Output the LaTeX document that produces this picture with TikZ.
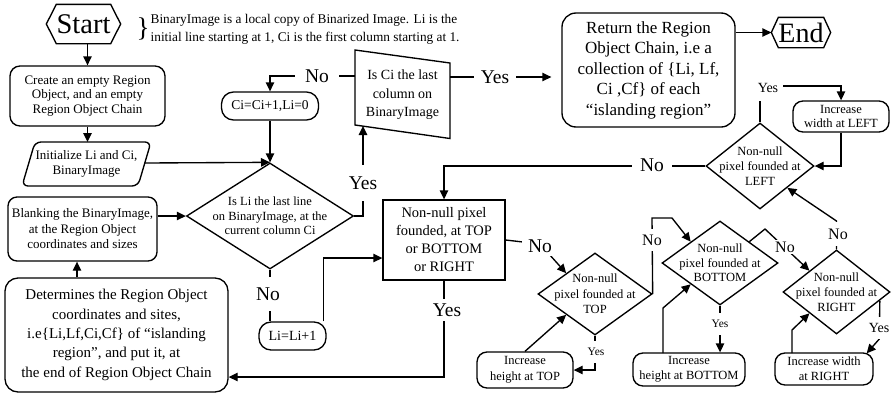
\documentclass[tikz,border=0pt]{standalone}
\usepackage{fontspec}
\setmainfont{Liberation Serif}
\usetikzlibrary{shapes.geometric,arrows.meta,calc}
\newcommand\fsz[2]{\fontsize{#1}{#2}\selectfont}
\begin{document}
\begin{tikzpicture}[x=1pt,y=-1pt,line width=1.35pt,
  arr/.style={-{Triangle[length=9pt,width=8.5pt]}},
  rbox/.style={draw,rounded corners=10pt,align=center,inner sep=0pt},
  sbox/.style={draw,align=center,inner sep=0pt},
  pill/.style={draw,rounded corners=12pt,align=center,inner sep=0pt},
  dia/.style={draw,diamond,inner sep=0pt},
  txt/.style={align=center,inner sep=0pt},
  notetxt/.style={anchor=base west,inner sep=0pt,font=\fsz{13.3}{16}},
  big/.style={fill=white,inner sep=2pt,font=\fsz{19.5}{20}},
  mid/.style={fill=white,inner sep=2pt,font=\fsz{16}{16}},
  yesm/.style={fill=white,inner sep=2pt,font=\fsz{14}{14}},
  sml/.style={fill=white,inner sep=2pt,font=\fsz{11.5}{12}},
  ]
\useasboundingbox (0,0) rectangle (891,394);

% ---------- terminals ----------
\node[txt,font=\fsz{28.5}{28.5},minimum width=73,minimum height=38] (start) at (83.5,24) {Start};
\draw (start.west) -- ([xshift=10pt]start.north west) -- ([xshift=-10pt]start.north east)
  -- (start.east) -- ([xshift=-10pt]start.south east) -- ([xshift=10pt]start.south west) -- cycle;

\node[txt,font=\fsz{28}{28},minimum width=58,minimum height=29] (end) at (801,32.5) {End};
\draw (end.west) -- ([xshift=7pt]end.north west) -- ([xshift=-7pt]end.north east)
  -- (end.east) -- ([xshift=-7pt]end.south east) -- ([xshift=7pt]end.south west) -- cycle;

% ---------- note ----------
\node[anchor=west,inner sep=0pt,font=\fsz{27}{27}] (brace) at (136,29) {\}};
\node[notetxt] (noteA) at (150,23.5) {BinaryImage is a local copy of Binarized Image. Li is the};
\node[notetxt] (noteB) at (150,41.5) {initial line starting at 1, Ci is the first column starting at 1.};

% ---------- left column ----------
\node[rbox,minimum width=155,minimum height=60,font=\fsz{13}{14.5}] (create) at (87.5,96)
  {Create an empty Region\\Object, and an empty\\Region Object Chain};

\draw[rounded corners=6pt] (35,142) -- (151,142) -- (138,186) -- (22,186) -- cycle;
\node[txt,font=\fsz{13}{15}] (init) at (86.5,164) {Initialize Li and Ci,\\BinaryImage};
\coordinate (initTop) at (88,142);
\coordinate (initR) at (145,163);

\node[rbox,rounded corners=9pt,minimum width=149,minimum height=64,font=\fsz{13}{15.5}] (blank) at (82.5,229)
  {Blanking the BinaryImage,\\at the Region Object\\coordinates and sizes};

\node[rbox,rounded corners=13pt,minimum width=223,minimum height=114,font=\fsz{15}{19.3}] (det) at (116.5,335)
  {Determines the Region Object\\coordinates and sites,\\i.e\{Li,Lf,Ci,Cf\} of “islanding\\region”, and put it, at\\the end of Region Object Chain};
\coordinate (upx) at (77,0);

% ---------- centre ----------
\node[dia,minimum width=167,minimum height=106] (d1) at (270,216) {};
\node[txt,font=\fsz{12.5}{14.5}] (d1t) at (d1) {Is Li the last line\\on BinaryImage, at the\\current column Ci};

\node[pill,minimum width=97,minimum height=28,font=\fsz{13.5}{14}] (ci) at (270,106) {Ci=Ci+1,Li=0};
\node[pill,minimum width=67,minimum height=28,font=\fsz{14}{14}] (li) at (292.5,336) {Li=Li+1};

\draw (355,50) -- (450,63) -- (450,138.5) -- (355,125) -- cycle;
\node[txt,font=\fsz{14}{18.5}] (trap) at (402.5,95) {Is Ci the last\\column on\\BinaryImage};
\coordinate (trapL) at (355,76);
\coordinate (trapR) at (450,77);
\coordinate (trapB) at (363,126);

\node[sbox,minimum width=122,minimum height=80,font=\fsz{14.5}{18}] (nn) at (444,240)
  {Non-null pixel\\founded, at TOP\\or BOTTOM\\or RIGHT};

\node[rbox,rounded corners=14pt,minimum width=173,minimum height=114,font=\fsz{17}{20.5}] (ret) at (648.5,70)
  {Return the Region\\Object Chain, i.e a\\collection of \{Li, Lf,\\Ci ,Cf\} of each\\“islanding region”};

% ---------- border search ----------
\node[dia,minimum width=114,minimum height=82] (top) at (595,294) {};
\node[txt,font=\fsz{12.5}{15.5}] (topt) at (top) {Non-null\\pixel founded at\\TOP};
\node[dia,minimum width=116,minimum height=84] (bot) at (720,263) {};
\node[txt,font=\fsz{12.5}{14.5}] (bott) at (bot) {Non-null\\pixel founded at\\BOTTOM};
\node[dia,minimum width=107,minimum height=84] (right) at (836.5,292) {};
\node[txt,font=\fsz{12.5}{15}] (rightt) at (right) {Non-null\\pixel founded at\\RIGHT};
\node[dia,minimum width=108,minimum height=86] (left) at (760,166) {};
\node[txt,font=\fsz{12.5}{15}] (leftt) at (left) {Non-null\\pixel founded at\\LEFT};

\node[rbox,minimum width=96,minimum height=36,font=\fsz{12.5}{16}] (incTop) at (525,370) {Increase\\height at TOP};
\node[rbox,minimum width=112,minimum height=33,font=\fsz{12.5}{15}] (incBot) at (689,369.5) {Increase\\height at BOTTOM};
\node[rbox,minimum width=98,minimum height=32,font=\fsz{12.5}{15}] (incRight) at (824,369) {Increase width\\at RIGHT};
\node[rbox,minimum width=96,minimum height=31,font=\fsz{12.5}{13.5}] (incLeft) at (841,116.5) {Increase\\width at LEFT};

% ---------- connectors ----------
\draw[arr] (start.south -| create.north) -- (create.north);
\draw[arr] (create.south) -- (create.south |- initTop);
\draw[arr] (initR) -- (d1.north);
\draw[arr] (ci.south) -- (d1.north);
\draw[arr] (d1.west -| blank.east) -- (d1.west);
\draw[arr] (det.north -| upx) -- (blank.south -| upx);

\draw[arr] (d1.east) -| (trapB);
\node[big,inner ysep=12pt] (y1) at (363,183) {Yes};

\draw[arr] (trapL) -| (ci.north);
\node[big,inner xsep=10pt] (n1) at (317,76) {No};

\draw[arr,shorten >=10pt] (trapR) -- (trapR -| ret.west);
\node[big,inner xsep=7pt] (y2) at (495,77) {Yes};

\draw[arr] (ret.east |- end.west) -- (end.west);

\draw (d1.south) -- (d1.south |- li.north);
\node[big,inner ysep=11pt] (n2) at (268,294) {No};

\draw[arr] ([xshift=-3pt]li.north east) |- ($(nn.west)+(0,18)$);

\coordinate (yesTurn) at (447,377);
\draw[arr] (nn.south) -- (nn.south |- yesTurn) -- (det.east |- yesTurn);
\node[big,inner ysep=5pt] (y3) at (447,310) {Yes};

\draw[arr] (nn.east) -- (540,244) -- (top.north west);
\node[big,inner xsep=6pt,inner ysep=4pt] (n3) at (540,246) {No};

\draw[arr] (top.south) |- (incTop.east);
\node[sml,inner ysep=7pt] (y4) at (596,352) {Yes};
\draw[arr] (incTop.north) -- (top.south west);

\draw[arr] (top.east) -- (652,218) -- (672,218) -- (bot.north west);
\node[mid,inner ysep=6pt] (n4) at (652,240) {No};

\draw[arr] (bot.south) -- (bot.south |- incBot.north);
\node[sml,inner ysep=7pt] (y5) at (720,324) {Yes};
\draw[arr] (663,353) -- (663,308) -- (bot.south west);

\draw[arr] (bot.north east) -- (765,229) -- (right.north west);
\node[mid,inner sep=2pt] (n5) at (785,247) {No};

\draw[arr] (right.north) -- (836.5,221) -- (left.south east);
\node[mid,inner ysep=7pt] (n6) at (838,234) {No};

\draw[arr] ($(right.east)!0.2!(right.south)$) -- (879.3,339) -- ($(incRight.north east)+(-7,1)$);
\node[yesm,inner xsep=1pt,inner ysep=6pt] (y6) at (879,328) {Yes};
\draw[arr] (792,353) -- (792,330) -- (right.south west);

\draw[arr] (left.north) -- (760,86) -| (incLeft.north);
\node[yesm,inner xsep=5pt,inner ysep=8pt] (y7) at (768,88) {Yes};
\draw[arr] (incLeft.south) |- (left.east);

\draw[arr] (left.west) -| (nn.north);
\node[big,inner xsep=8pt] (n7) at (652,165) {No};
\end{tikzpicture}
\end{document}
